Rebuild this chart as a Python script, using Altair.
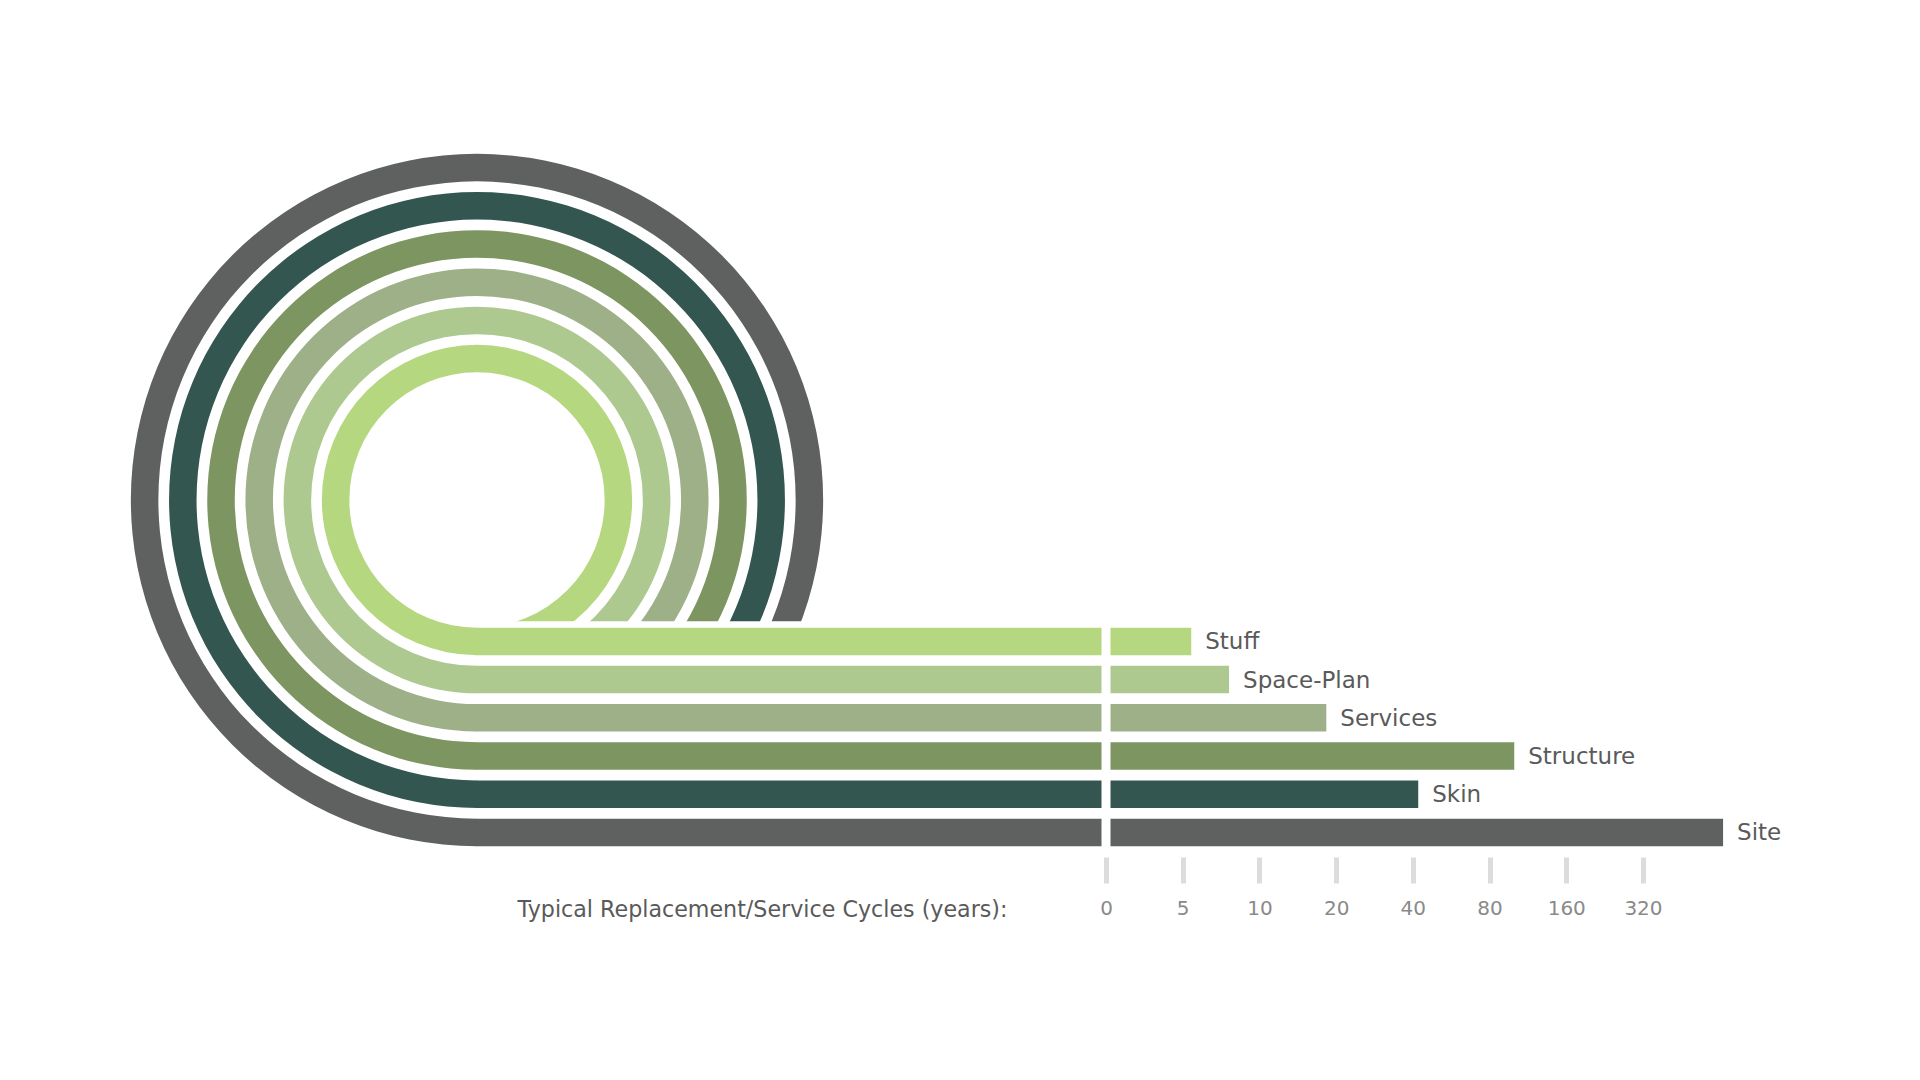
import math
import pandas as pd
import altair as alt

# ---------------- data ----------------
categories = ["Stuff", "Space-Plan", "Services", "Structure", "Skin", "Site"]
cycle_years = [5.4, 7.6, 18.3, 100, 42, 660]
colors = ["#b5d77f", "#adc98f", "#9db087", "#7d9561", "#345651", "#5f6060"]
tick_years = [0, 5, 10, 20, 40, 80, 160, 320]
tick_labels = ["0", "5", "10", "20", "40", "80", "160", "320"]
axis_title = "Typical Replacement/Service Cycles (years):"


def to_pos(y):
    # 0 at the origin, then one step per doubling starting at 5 years
    return 0.0 if y <= 0 else 1 + math.log2(y / 5)


# ---------------- layout ----------------
W, H = 1920, 857
X_ZERO, X_STEP = 1106, 76.71      # pixel of "0" and pixel per tick step
ROW0, ROW_STEP = 641.4, 38.2      # pixel of first row centre and row pitch
BAR_FRAC = 0.72
xdom = [-X_ZERO / X_STEP, (W - X_ZERO) / X_STEP]
ydom = [-ROW0 / ROW_STEP, (H - ROW0) / ROW_STEP]
RING_CX = (477 - X_ZERO) / X_STEP
RING_CY = (500 - ROW0) / ROW_STEP
CUT = -BAR_FRAC / 2 - 0.17
FONT = "DejaVu Sans"

rows = pd.DataFrame({
    "cat": categories,
    "row": list(range(len(categories))),
    "years": cycle_years,
})
rows["pos"] = rows["years"].map(to_pos)
rows["y0"] = rows["row"] - BAR_FRAC / 2
rows["y1"] = rows["row"] + BAR_FRAC / 2
rows["start"] = RING_CX - 0.01
rows["cx"] = RING_CX
rows["cy"] = RING_CY
rows["r_in"] = rows["y0"] - RING_CY
rows["r_out"] = rows["y1"] - RING_CY

xscale = alt.Scale(domain=xdom, nice=False, zero=False)
yscale = alt.Scale(domain=ydom, nice=False, zero=False, reverse=True)
color = alt.Color("cat:N", scale=alt.Scale(domain=categories, range=colors), legend=None)

tick_pos = [to_pos(t) for t in tick_years]
label_js = "[" + ",".join("'%s'" % s for s in tick_labels) + "]"
xaxis = alt.Axis(
    values=tick_pos,
    labelExpr=label_js + "[round(datum.value)]",
    domain=False, grid=False,
    ticks=True, tickSize=26, tickWidth=5, tickColor="#dcdcdc", tickCap="butt",
    labelColor="#8a8a8a", labelFont=FONT, labelFontSize=20,
    labelBaseline="middle", labelPadding=25,
    title=axis_title, titleFont=FONT, titleFontSize=22.2, titleFontWeight="normal",
    titleColor="#5a5a5a", titleX=1007, titleY=52, titleAlign="right",
    titleBaseline="middle", titleAngle=0,
)


def X(field):
    return alt.X(field, type="quantitative", scale=xscale, axis=xaxis)


def Y(field):
    return alt.Y(field, type="quantitative", scale=yscale, axis=None)


rings = alt.Chart(rows).mark_arc(theta=0, theta2=2 * math.pi, stroke=None).encode(
    x=X("cx"), y=Y("cy"),
    radius=alt.Radius("r_out:Q", scale=alt.Scale(type="linear", domain=[0, 10],
                                                  range=[0, 10 * ROW_STEP], zero=True)),
    radius2=alt.Radius2("r_in:Q"),
    color=color,
)

cover_df = pd.DataFrame({"x0": [RING_CX], "x1": [0.0], "y0": [CUT], "y1": [ydom[1]]})
cover = alt.Chart(cover_df).mark_rect(color="white").encode(
    x=X("x0"), x2="x1", y=Y("y0"), y2="y1"
)

bars = alt.Chart(rows).mark_rect().encode(
    x=X("start"), x2="pos", y=Y("y0"), y2="y1", color=color,
    tooltip=["cat:N", "years:Q"],
)

gap_df = pd.DataFrame({"x": [0.0], "y0": [-0.6], "y1": [len(categories) - 0.4]})
gap = alt.Chart(gap_df).mark_rule(color="white", strokeWidth=9).encode(
    x=X("x"), y=Y("y0"), y2="y1"
)

labels = alt.Chart(rows).mark_text(
    align="left", baseline="middle", dx=14, dy=1, fontSize=23, font=FONT, color="#5a5a5a"
).encode(x=X("pos"), y=Y("row"), text="cat:N")

chart = alt.layer(rings, cover, bars, gap, labels).properties(
    width=W, height=H,
    autosize=alt.AutoSizeParams(type="none"),
    padding={"left": 0, "top": 0, "right": 0, "bottom": 1080 - H},
    background="white",
).configure_view(stroke=None)

chart.save("out.html", embed_options={"renderer": "svg", "actions": False})
